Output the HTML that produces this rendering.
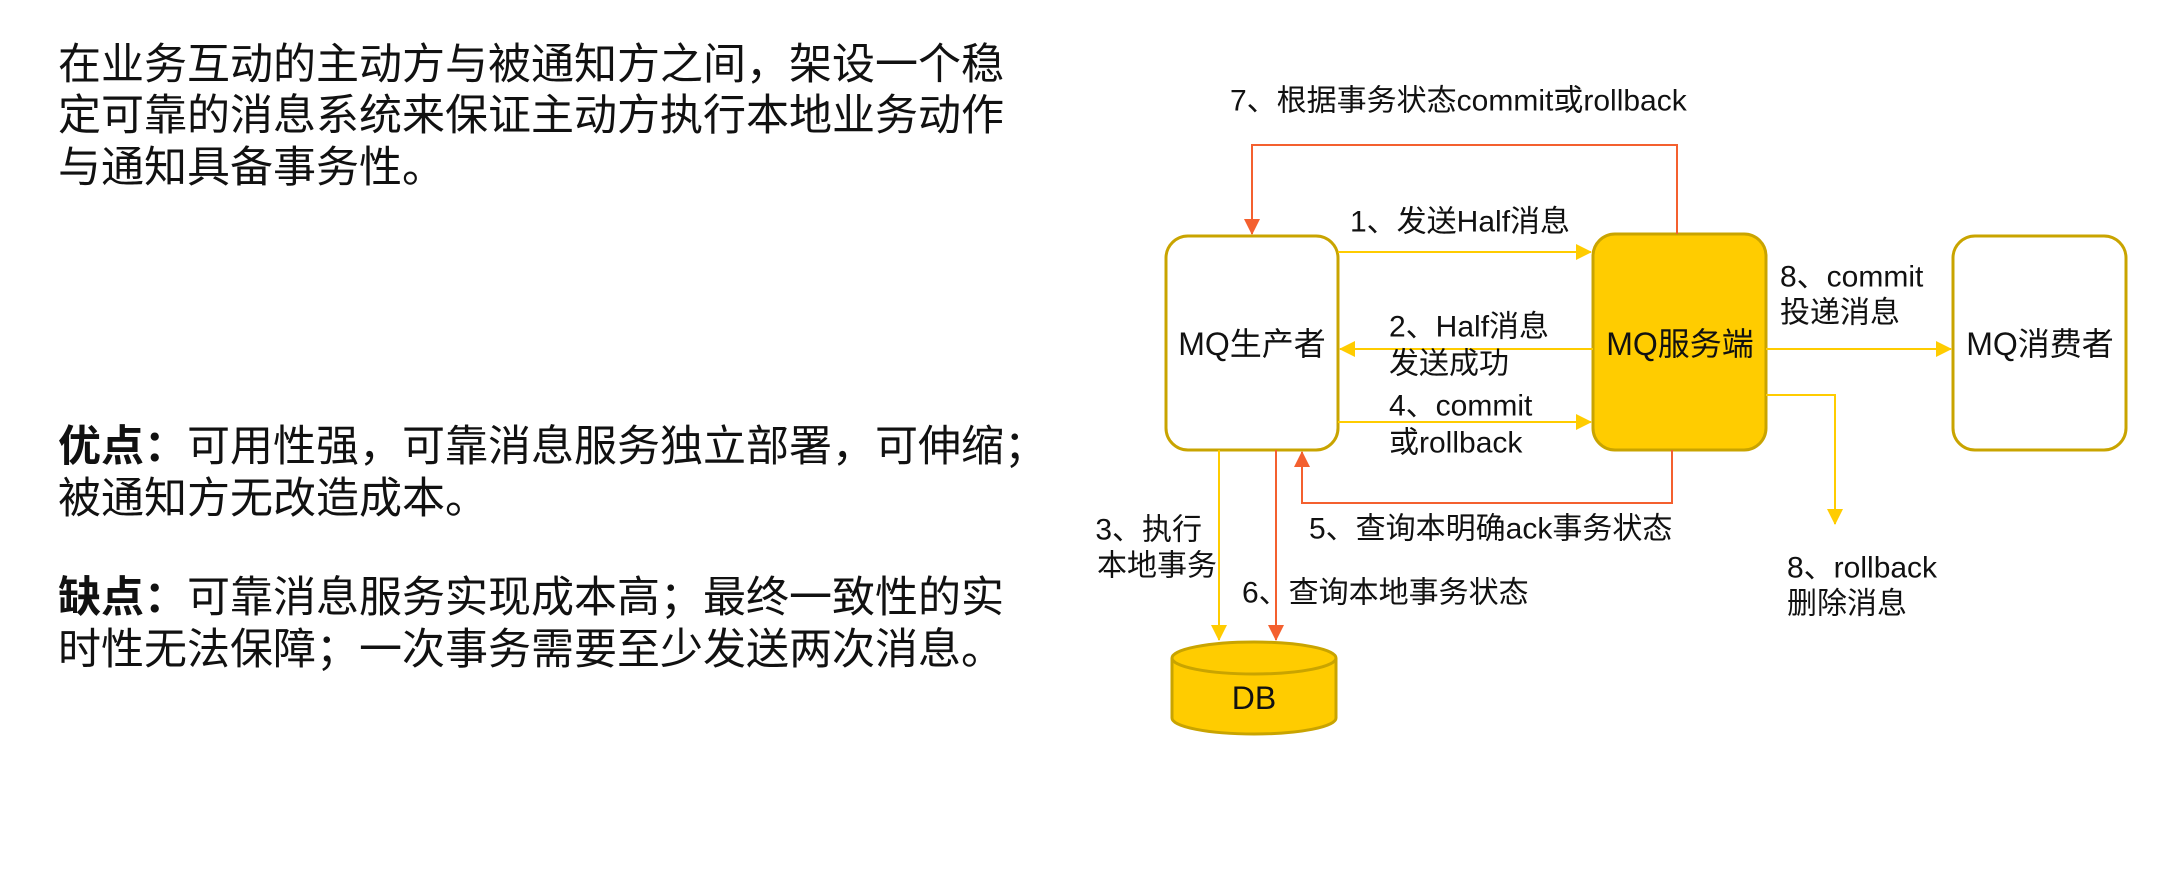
<!DOCTYPE html>
<html><head><meta charset="utf-8"><style>
html,body{margin:0;padding:0;background:#fff;width:2172px;height:879px;overflow:hidden}
svg{display:block}
text{font-family:"Liberation Sans","Noto Sans CJK SC",sans-serif;fill:#111}
.p{font-size:43px}
.l{font-size:30px}
.n{font-size:32px}
</style></head><body>
<svg width="2172" height="879" viewBox="0 0 2172 879" xmlns="http://www.w3.org/2000/svg">
<defs>
<marker id="ay" markerWidth="16" markerHeight="16" refX="15" refY="8" orient="auto" markerUnits="userSpaceOnUse" viewBox="0 0 16 16"><path d="M0,0 L16,8 L0,16 z" fill="#FFCC00"/></marker>
<marker id="ao" markerWidth="16" markerHeight="16" refX="15" refY="8" orient="auto" markerUnits="userSpaceOnUse" viewBox="0 0 16 16"><path d="M0,0 L16,8 L0,16 z" fill="#F4602F"/></marker>
</defs>
<g class="p" dominant-baseline="central">
<text x="58" y="65">在业务互动的主动方与被通知方之间，架设一个稳</text>
<text x="58" y="116">定可靠的消息系统来保证主动方执行本地业务动作</text>
<text x="58" y="168">与通知具备事务性。</text>
<text x="58" y="447"><tspan font-weight="bold">优点：</tspan>可用性强，可靠消息服务独立部署，可伸缩；</text>
<text x="58" y="499">被通知方无改造成本。</text>
<text x="58" y="598"><tspan font-weight="bold">缺点：</tspan>可靠消息服务实现成本高；最终一致性的实</text>
<text x="58" y="650">时性无法保障；一次事务需要至少发送两次消息。</text>
</g>
<rect x="1166" y="236" width="172" height="214" rx="22" fill="#fff" stroke="#C9A400" stroke-width="3"/>
<rect x="1593" y="234" width="173" height="216" rx="22" fill="#FFCC00" stroke="#C9A400" stroke-width="3"/>
<rect x="1953" y="236" width="173" height="214" rx="22" fill="#fff" stroke="#C9A400" stroke-width="3"/>
<path d="M1172,658 L1172,718 A82,16 0 0 0 1336,718 L1336,658" fill="#FFCC00" stroke="#C9A400" stroke-width="3"/>
<ellipse cx="1254" cy="658" rx="82" ry="16" fill="#FFCC00" stroke="#C9A400" stroke-width="3"/>
<g dominant-baseline="central" text-anchor="middle" class="n">
<text x="1252" y="344">MQ生产者</text>
<text x="1680" y="344">MQ服务端</text>
<text x="2040" y="344">MQ消费者</text>
<text x="1254" y="698">DB</text>
</g>
<g stroke="#FFCC00" stroke-width="2" fill="none">
<line x1="1338" y1="252" x2="1591" y2="252" marker-end="url(#ay)"/>
<line x1="1593" y1="349" x2="1340" y2="349" marker-end="url(#ay)"/>
<line x1="1338" y1="422" x2="1591" y2="422" marker-end="url(#ay)"/>
<line x1="1766" y1="349" x2="1951" y2="349" marker-end="url(#ay)"/>
<polyline points="1766,395 1835,395 1835,524" marker-end="url(#ay)"/>
<line x1="1219" y1="450" x2="1219" y2="640" marker-end="url(#ay)"/>
</g>
<g stroke="#F4602F" stroke-width="2" fill="none">
<polyline points="1677,234 1677,145 1252,145 1252,234" marker-end="url(#ao)"/>
<polyline points="1672,450 1672,503 1302,503 1302,452" marker-end="url(#ao)"/>
<line x1="1276" y1="450" x2="1276" y2="640" marker-end="url(#ao)"/>
</g>
<g class="l" dominant-baseline="central">
<text x="1230" y="101">7、根据事务状态commit或rollback</text>
<text x="1350" y="222">1、发送Half消息</text>
<text x="1389" y="327">2、Half消息</text>
<text x="1389" y="364">发送成功</text>
<text x="1389" y="406">4、commit</text>
<text x="1389" y="443">或rollback</text>
<text x="1309" y="529">5、查询本明确ack事务状态</text>
<text x="1202" y="530" text-anchor="end">3、执行</text>
<text x="1097" y="566">本地事务</text>
<text x="1242" y="593">6、查询本地事务状态</text>
<text x="1780" y="277">8、commit</text>
<text x="1780" y="313">投递消息</text>
<text x="1787" y="568">8、rollback</text>
<text x="1787" y="604">删除消息</text>
</g>
</svg>
</body></html>
